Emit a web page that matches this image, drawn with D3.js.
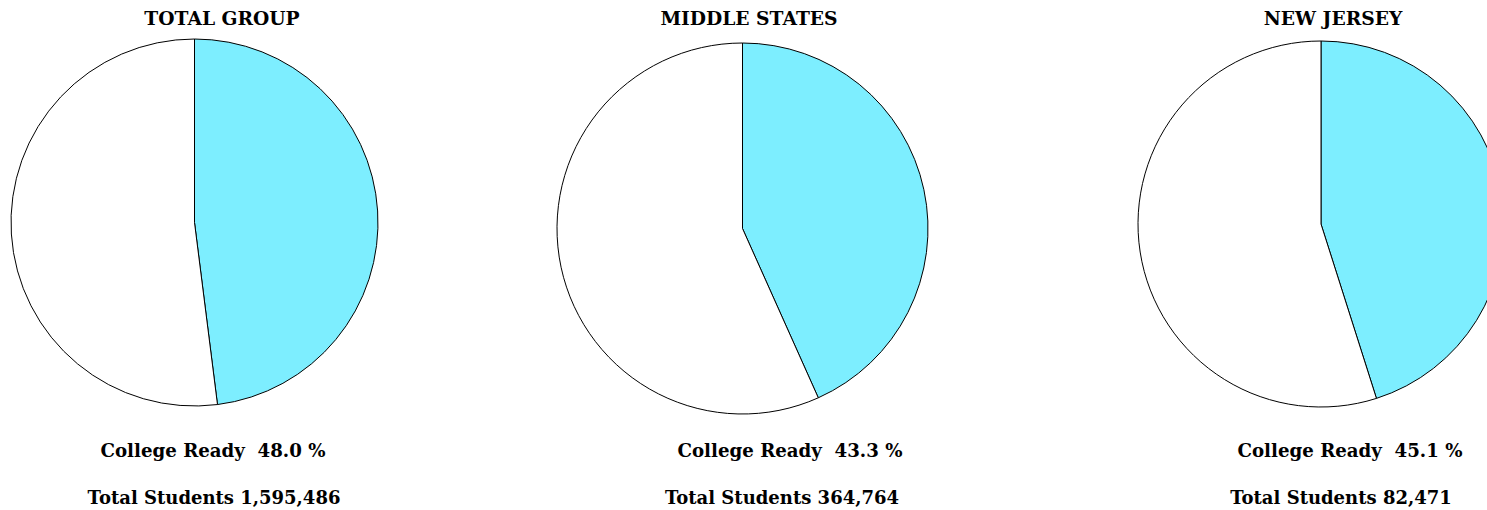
<!DOCTYPE html>
<html>
<head>
<meta charset="utf-8">
<script src="https://cdn.jsdelivr.net/npm/d3@7"></script>
<style>
  html, body { margin: 0; padding: 0; background: #fff; overflow: hidden; }
  svg { display: block; }
  text { font-family: "DejaVu Serif", serif; font-weight: bold; fill: #000; }
</style>
</head>
<body>
<svg id="chart" width="1487" height="510"></svg>
<script>
// ---- data ----
const groups = ["TOTAL GROUP", "MIDDLE STATES", "NEW JERSEY"];
const collegeReady = [48.0, 43.3, 45.1];
const totalStudents = [1595486, 364764, 82471];
const sliceLabels = ["College Ready", "Not College Ready"];

// ---- layout ----
const panels = [
  { cx: 194.5, cy: 222.5, r: 183.5, titleX: 222, readyX: 213, totalX: 214 },
  { cx: 742.5, cy: 228.5, r: 185.5, titleX: 749, readyX: 790, totalX: 782 },
  { cx: 1321,  cy: 224,   r: 183,   titleX: 1333, readyX: 1350, totalX: 1341 }
];
const colors = d3.scaleOrdinal().domain(sliceLabels).range(["#7deeff", "#ffffff"]);
const fmt = d3.format(",");

const svg = d3.select("#chart");
const pie = d3.pie().sort(null).value(d => d.value);

groups.forEach((g, i) => {
  const p = panels[i];
  const data = [
    { label: sliceLabels[0], value: collegeReady[i] },
    { label: sliceLabels[1], value: 100 - collegeReady[i] }
  ];
  const arc = d3.arc().innerRadius(0).outerRadius(p.r);
  const gp = svg.append("g").attr("transform", `translate(${p.cx},${p.cy})`);
  gp.selectAll("path").data(pie(data)).join("path")
    .attr("d", arc)
    .attr("fill", d => colors(d.data.label))
    .attr("stroke", "#000")
    .attr("stroke-width", 1)
    .attr("stroke-linejoin", "round");

  svg.append("text").attr("x", p.titleX).attr("y", 25)
    .attr("text-anchor", "middle").style("font-size", "18.7px").text(g);
  svg.append("text").attr("x", p.readyX).attr("y", 457)
    .attr("text-anchor", "middle").style("font-size", "18.2px")
    .attr("xml:space", "preserve")
    .text(`College Ready  ${collegeReady[i].toFixed(1)} %`);
  svg.append("text").attr("x", p.totalX).attr("y", 504)
    .attr("text-anchor", "middle").style("font-size", "18px")
    .text(`Total Students ${fmt(totalStudents[i])}`);
});
</script>
</body>
</html>
